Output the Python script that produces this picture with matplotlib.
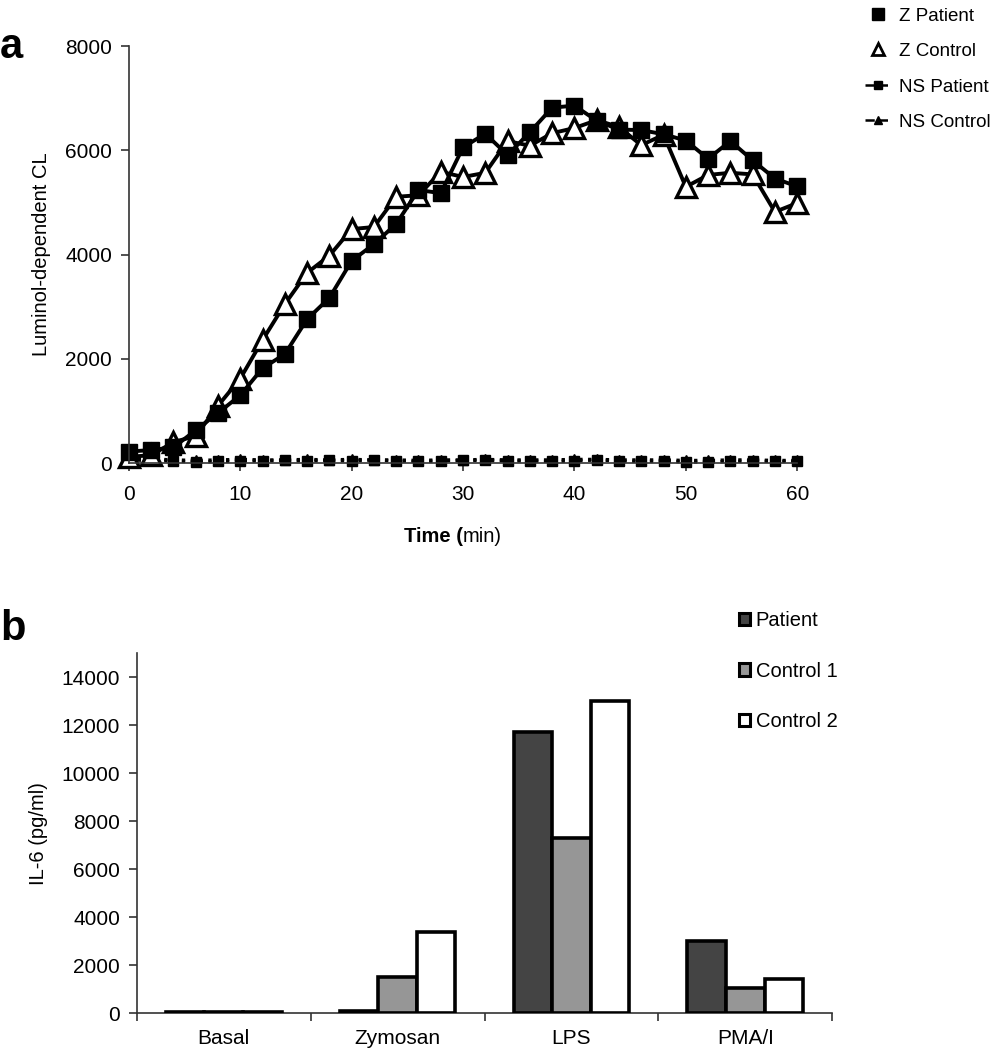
import matplotlib
matplotlib.use('Agg')
import matplotlib.pyplot as plt
from matplotlib.lines import Line2D
from matplotlib.patches import Patch
import numpy as np

plt.rcParams['font.family'] = ['Liberation Sans', 'DejaVu Sans']

# panel a: luminol-dependent chemiluminescence
time_min = list(range(0, 61, 2))
z_patient = [220, 250, 300, 630, 960, 1300, 1820, 2090, 2760, 3170, 3880, 4200, 4590,
             5240, 5180, 6060, 6320, 5910, 6350, 6820, 6860, 6570, 6400, 6390, 6310,
             6190, 5840, 6180, 5810, 5460, 5310]
z_control = [120, 150, 400, 520, 1100, 1620, 2360, 3050, 3650, 3980, 4490, 4530, 5110,
             5140, 5590, 5490, 5570, 6180, 6090, 6330, 6430, 6580, 6450, 6100, 6300,
             5300, 5530, 5570, 5540, 4820, 4990]
ns_patient = [60, 50, 40, 20, 30, 40, 40, 50, 40, 50, 40, 60, 40, 30, 40, 50, 50, 40,
              40, 30, 40, 60, 40, 30, 40, 20, 20, 30, 40, 30, 30]
ns_control = [90, 80, 60, 50, 60, 70, 60, 60, 70, 60, 70, 60, 60, 50, 60, 60, 70, 60,
              60, 60, 70, 70, 60, 60, 60, 50, 50, 60, 60, 50, 50]

# panel b: IL-6 release
stimuli = ['Basal', 'Zymosan', 'LPS', 'PMA/I']
il6_patient = [60, 100, 11700, 3020]
il6_control1 = [40, 1500, 7310, 1050]
il6_control2 = [40, 3400, 13000, 1420]

fig = plt.figure(figsize=(9.99, 10.5), dpi=100)

# ---- panel a ----
ax1 = fig.add_axes([0.129, 0.559, 0.669, 0.397])
ax1.plot(time_min, ns_control, linestyle=':', color='black', lw=2.4, marker='^',
         ms=7, mfc='black', mec='black', clip_on=False)
ax1.plot(time_min, ns_patient, linestyle=':', color='black', lw=2.4, marker='s',
         ms=7, mfc='black', mec='black', clip_on=False)
ax1.plot(time_min, z_control, linestyle='-', color='black', lw=2.8, marker='^',
         ms=15, mfc='white', mec='black', mew=2.4, clip_on=False)
ax1.plot(time_min, z_patient, linestyle='-', color='black', lw=2.8, marker='s',
         ms=12, mfc='black', mec='black', clip_on=False)
ax1.set_xlim(0, 60)
ax1.set_ylim(0, 8000)
ax1.set_xticks([0, 10, 20, 30, 40, 50, 60])
ax1.set_yticks([0, 2000, 4000, 6000, 8000])
for s in ['top', 'right']:
    ax1.spines[s].set_visible(False)
for s in ['left', 'bottom']:
    ax1.spines[s].set_color('#333333')
    ax1.spines[s].set_linewidth(1.2)
ax1.tick_params(direction='out', length=6, width=1.2, color='#333333', labelsize=15)
ax1.tick_params(axis='x', pad=10)
ax1.tick_params(axis='y', pad=6)
ax1.set_ylabel('Luminol-dependent CL', fontsize=14.5, labelpad=10)

t1 = ax1.text(0.5, -0.19, 'Time (', transform=ax1.transAxes, fontsize=14.5,
              fontweight='bold', ha='right', va='baseline')
ax1.annotate('min)', xy=(1, 0), xycoords=t1, fontsize=14.5, ha='left', va='bottom')

leg_a = [Line2D([], [], ls='none', marker='s', color='black', ms=8),
         Line2D([], [], ls='none', marker='^', mfc='white', mec='black', mew=2, ms=8),
         Line2D([], [], ls='--', marker='s', color='black', ms=6, lw=1.8),
         Line2D([], [], ls='--', marker='^', color='black', ms=6, lw=1.8)]
fig.legend(leg_a, ['Z Patient', 'Z Control', 'NS Patient', 'NS Control'],
           loc='upper left', bbox_to_anchor=(0.849, 1.009), frameon=False,
           fontsize=13.5, handlelength=1.4, labelspacing=0.98, handletextpad=0.4)

fig.text(0.0, 0.945, 'a', fontsize=30, fontweight='bold')

# ---- panel b ----
ax2 = fig.add_axes([0.137, 0.035, 0.696, 0.343])
xc = np.arange(len(stimuli)) + 0.5
w = 0.222
kw = dict(edgecolor='black', linewidth=2.6, zorder=3)
ax2.bar(xc - w, il6_patient, w, color='#444444', label='Patient', **kw)
ax2.bar(xc, il6_control1, w, color='#969696', label='Control 1', **kw)
ax2.bar(xc + w, il6_control2, w, color='white', label='Control 2', **kw)
ax2.set_xlim(0, 4)
ax2.set_ylim(0, 15000)
ax2.set_yticks(range(0, 14001, 2000))
ax2.set_xticks([0, 1, 2, 3, 4])
ax2.set_xticklabels([])
ax2.set_xticks(xc, minor=True)
ax2.set_xticklabels(stimuli, minor=True)
ax2.tick_params(axis='x', which='minor', length=0, pad=11, labelsize=15)
ax2.tick_params(axis='both', which='major', direction='out', length=6, width=1.2,
                color='#333333', labelsize=15)
ax2.tick_params(axis='y', pad=6)
for s in ['top', 'right']:
    ax2.spines[s].set_visible(False)
for s in ['left', 'bottom']:
    ax2.spines[s].set_color('#333333')
    ax2.spines[s].set_linewidth(1.2)
ax2.set_ylabel('IL-6 (pg/ml)', fontsize=14.5, labelpad=10)

fig.legend(handles=[Patch(facecolor='#444444', edgecolor='black', lw=2.2),
                    Patch(facecolor='#969696', edgecolor='black', lw=2.2),
                    Patch(facecolor='white', edgecolor='black', lw=2.2)],
           labels=['Patient', 'Control 1', 'Control 2'],
           loc='upper left', bbox_to_anchor=(0.722, 0.435), frameon=False,
           fontsize=14.5, handlelength=0.55, handleheight=0.55, labelspacing=1.55,
           handletextpad=0.25)

fig.text(0.0, 0.39, 'b', fontsize=30, fontweight='bold')

fig.savefig('out.png', dpi=100)
